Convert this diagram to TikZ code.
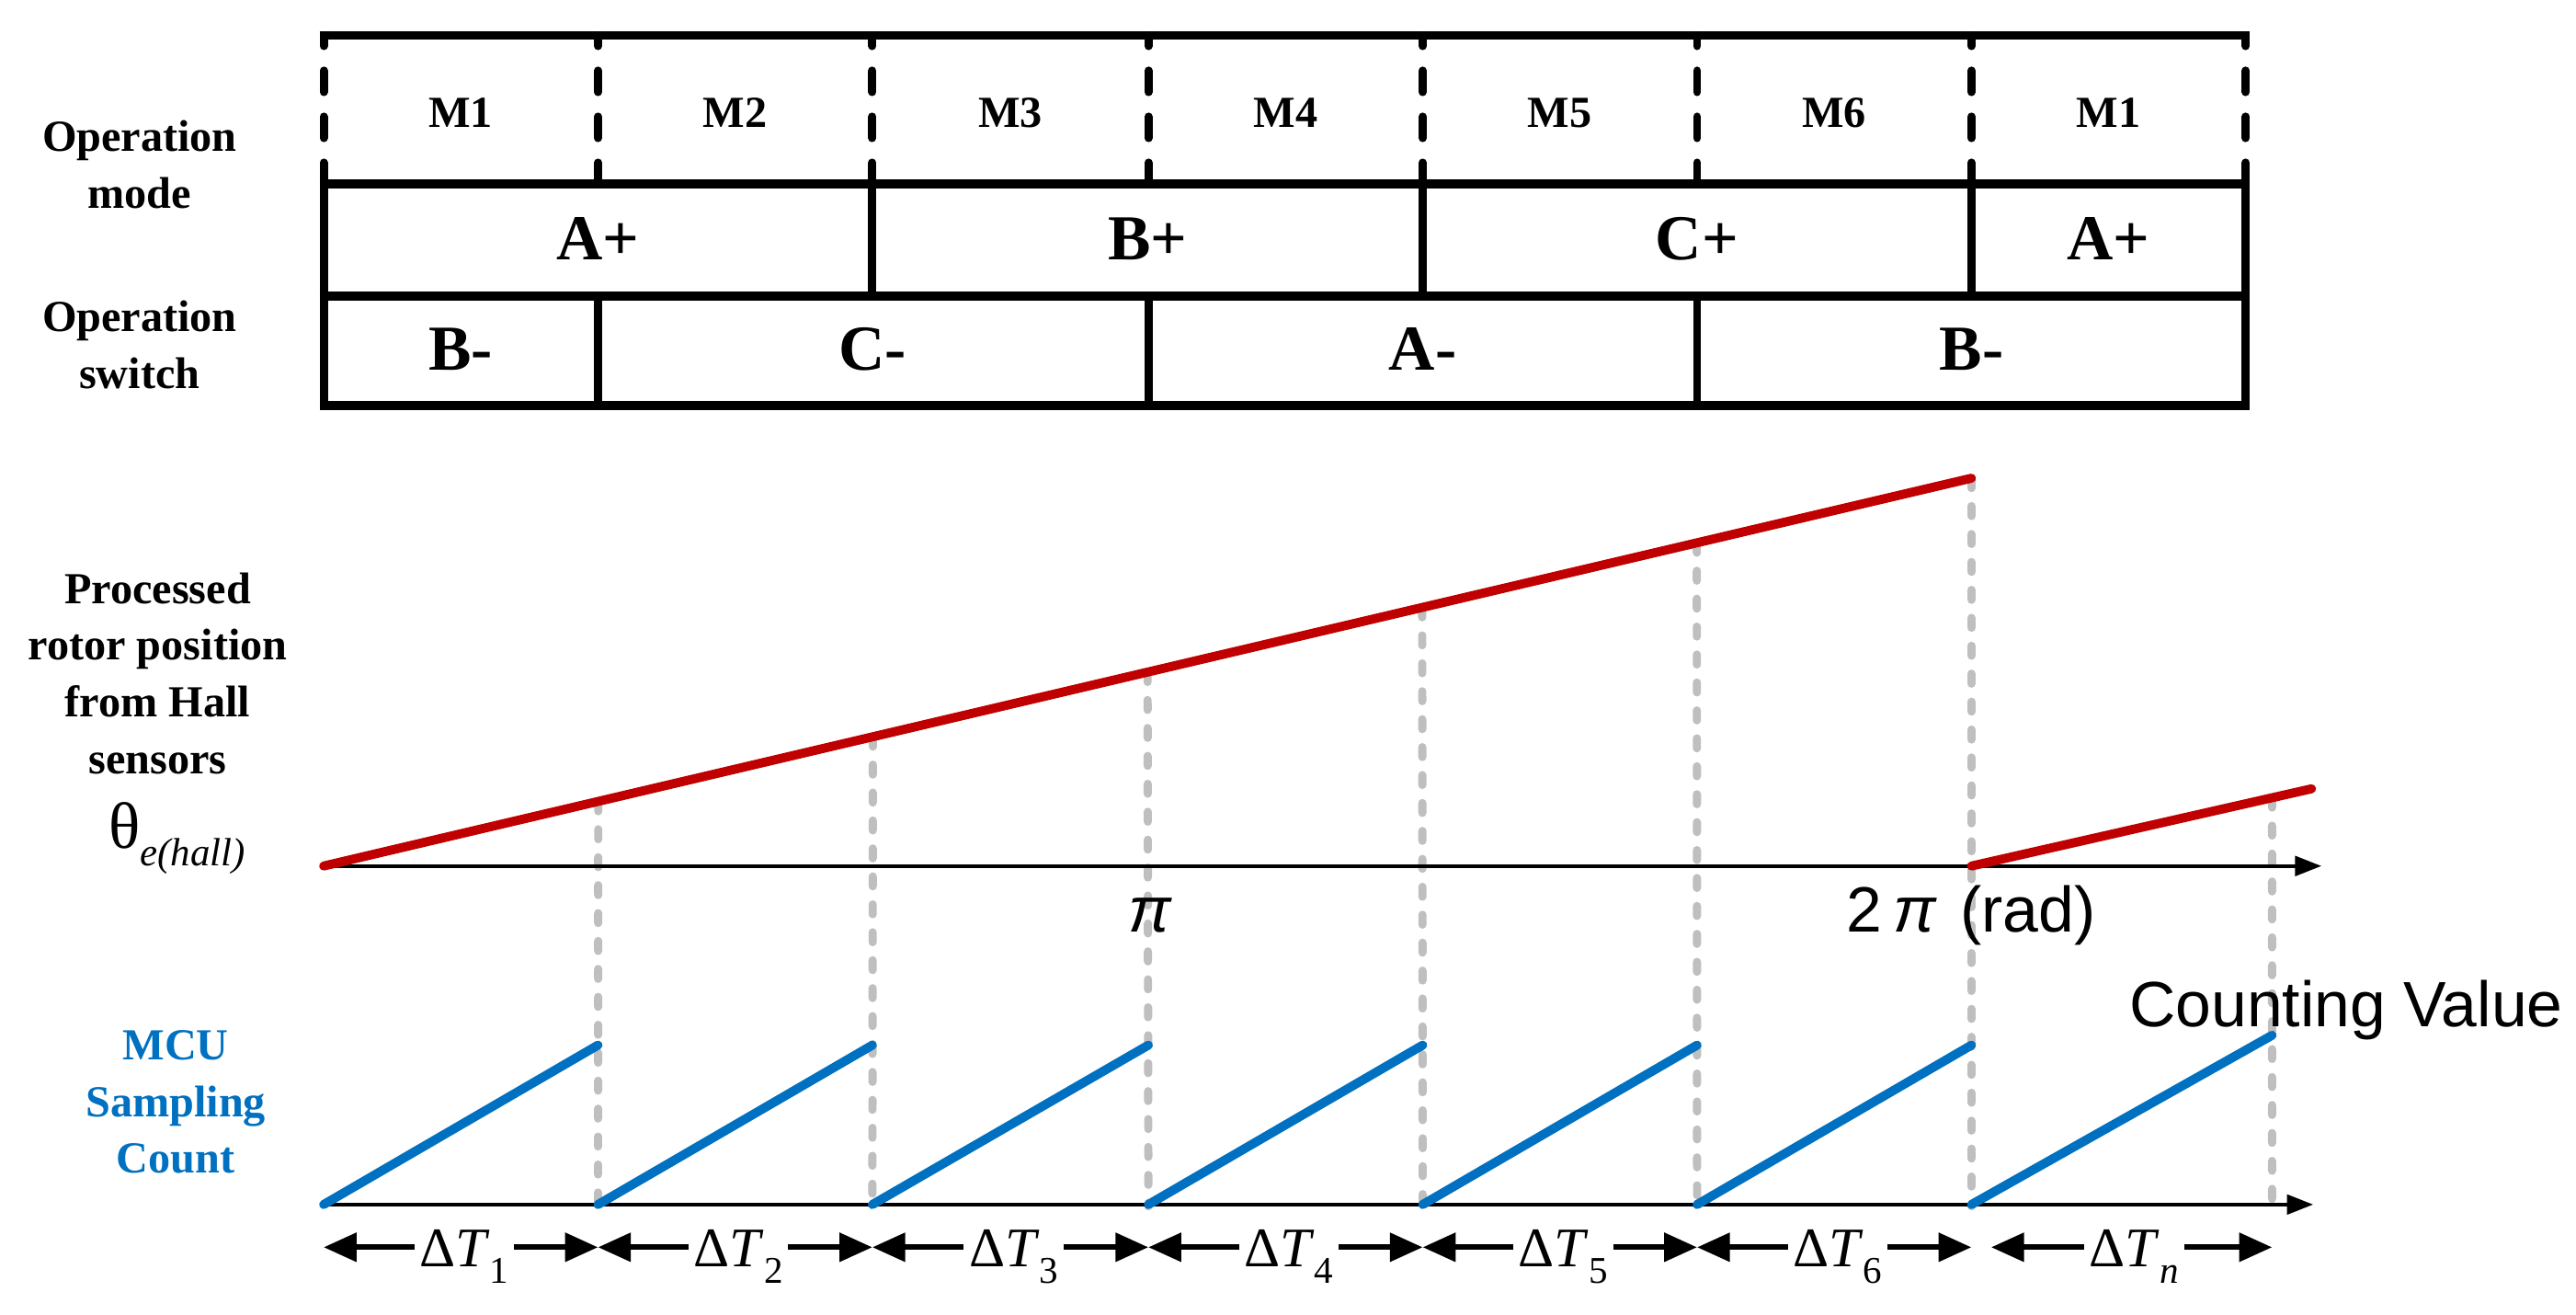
\documentclass[tikz,border=0pt]{standalone}
\usepackage{fontspec}
\setmainfont{Liberation Serif}
\newfontfamily\sansf{Liberation Sans}
\usetikzlibrary{arrows.meta,calc}
\definecolor{redl}{RGB}{192,0,0}
\definecolor{bluel}{RGB}{0,112,192}
\definecolor{grayl}{RGB}{191,191,191}
\begin{document}
\begin{tikzpicture}[x=1pt,y=-1pt,
  hline/.style={line width=5.5pt},
  vline/.style={line width=5pt},
  mdash/.style={line width=5pt, dash pattern=on 13pt off 15pt, line cap=round},
  lbl/.style={font=\fontsize{27}{34.5}\selectfont\bfseries, align=center, inner sep=0pt},
  mlbl/.style={font=\fontsize{27}{27}\selectfont\bfseries, anchor=base, inner sep=0pt},
  rowlbl/.style={font=\fontsize{39}{39}\selectfont\bfseries, anchor=base, inner sep=0pt},
  sanslbl/.style={font=\sansf\fontsize{39}{39}\selectfont, inner sep=0pt},
  gdash/.style={draw=grayl, line width=5pt, dash pattern=on 6pt off 11pt, line cap=round},
  axisl/.style={line width=2pt, -{Triangle[length=16pt,width=12pt]}},
  redline/.style={draw=redl, line width=5.5pt, line cap=round},
  blueline/.style={draw=bluel, line width=5.5pt, line cap=round},
  dtl/.style={font=\fontsize{34}{34}\selectfont, anchor=base, inner sep=3pt},
  darr/.style={line width=3.5pt, -{Triangle[length=20pt,width=17pt]}}
]
\useasboundingbox (0,0) rectangle (1568,800);

% ---------- table ----------
\foreach \x in {197,364,531,699,866,1033,1200,1367}
  \draw[mdash] (\x,112) -- (\x,21.5);
\draw[hline] (194.5,21.5) -- (1369.5,21.5);
\draw[hline] (194.5,112) -- (1369.5,112);
\draw[hline] (194.5,180) -- (1369.5,180);
\draw[hline] (194.5,247) -- (1369.5,247);
\draw[vline] (197,112) -- (197,247);
\draw[vline] (1367,112) -- (1367,247);
\foreach \x in {531,866,1200} \draw[vline] (\x,112) -- (\x,180);
\foreach \x in {364,699,1033} \draw[vline] (\x,180) -- (\x,247);

\foreach \x/\t [count=\k] in {280.5/M1,447.5/M2,615/M3,782.5/M4,949.5/M5,1116.5/M6,1283.5/M1}
  \node[mlbl] (m\k) at (\x,77.5) {\t};

\node[rowlbl] (ap1) at (364,158) {A+};
\node[rowlbl] (bp)  at (698.5,158) {B+};
\node[rowlbl] (cp)  at (1033,158) {C+};
\node[rowlbl] (ap2) at (1283.5,158) {A+};
\node[rowlbl] (bm1) at (280.5,225) {B-};
\node[rowlbl] (cm)  at (531,225) {C-};
\node[rowlbl] (am)  at (866,225) {A-};
\node[rowlbl] (bm2) at (1200,225) {B-};

% ---------- left labels ----------
\node[lbl] (opmode) at (85,100) {Operation\\mode};
\node[lbl] (opsw) at (85,210) {Operation\\switch};
\node[lbl] (proc) at (96,409.75) {Processed\\rotor position\\from Hall\\sensors};
\node[lbl, text=bluel] (mcu) at (107,670.7) {MCU\\Sampling\\Count};
\node[anchor=base west, inner sep=0pt] (theta) at (66,516)
  {\fontsize{40}{40}\selectfont θ\raisebox{-11pt}{\fontsize{24}{24}\selectfont\itshape e(hall)}};

% ---------- waveforms ----------
\coordinate (r0) at (197,527);
\coordinate (r6) at (1200,291);
\coordinate (s0) at (1200,527);
\coordinate (s1) at (1407,480);

\foreach \i/\x in {1/364,2/531,3/699,4/866,5/1033}
  \draw[gdash] ($(r0)!\i/6!(r6)$) -- (\x,734);
\draw[gdash] (r6) -- (1200,734);
\draw[gdash] ($(s0)!183/207!(s1)$) -- (1383,734);

\draw[axisl] (197,527) -- (1413,527);
\draw[axisl] (197,733) -- (1408,733);

\draw[redline] (r0) -- (r6);
\draw[redline] (s0) -- (s1);

\foreach \xa/\xb in {197/364,364/531,531/699,699/866,866/1033,1033/1200}
  \draw[blueline] (\xa,733) -- (\xb,636);
\draw[blueline] (1200,733) -- (1383,630);

\node[sanslbl, anchor=base] (pi) at (700,567) {\itshape π};
\node[sanslbl, anchor=base west] (twopi) at (1124,567) {2\,\textit{π}\hspace{14pt}(rad)};
\node[sanslbl, anchor=base west] (cval) at (1296,625) {Counting Value};

% ---------- Delta T arrows ----------
\foreach \xa/\xb/\s [count=\k] in {197/364/1,364/531/2,531/699/3,699/866/4,866/1033/5,1033/1200/6} {
  \coordinate (pa\k) at (\xa,759);
  \coordinate (pb\k) at (\xb,759);
  \node[dtl] (dt\k) at ({(\xa+\xb)/2+2},771) {Δ\textit{T}\raisebox{-10pt}{\fontsize{23}{23}\selectfont \s}};
  \draw[darr] (dt\k.west |- pa\k) -- (pa\k);
  \draw[darr] (dt\k.east |- pb\k) -- (pb\k);
}
\coordinate (pan) at (1212,759);
\coordinate (pbn) at (1383,759);
\node[dtl] (dtn) at (1299,771) {Δ\textit{T}\raisebox{-10pt}{\fontsize{23}{23}\selectfont\itshape n}};
\draw[darr] (dtn.west |- pan) -- (pan);
\draw[darr] (dtn.east |- pbn) -- (pbn);
\end{tikzpicture}
\end{document}
